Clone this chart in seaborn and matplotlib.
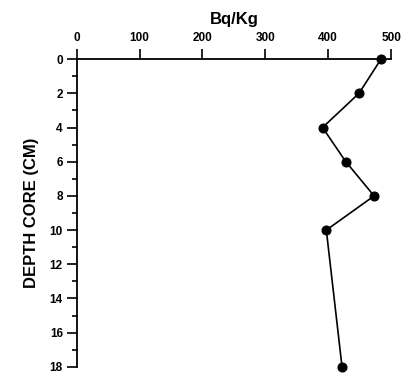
import matplotlib
matplotlib.use("Agg")
import matplotlib.pyplot as plt
import seaborn as sns
import pandas as pd
from matplotlib.ticker import MultipleLocator

depth_cm = [0, 2, 4, 6, 8, 10, 18]
activity_bq_kg = [484, 449, 391, 428, 473, 397, 422]
x_ticks = [0, 100, 200, 300, 400, 500]
y_ticks = [0, 2, 4, 6, 8, 10, 12, 14, 16, 18]

df = pd.DataFrame({"depth": depth_cm, "activity": activity_bq_kg})

sns.set_style("ticks")
plt.rcParams["font.family"] = ["Liberation Sans", "DejaVu Sans"]
plt.rcParams["font.weight"] = "bold"
plt.rcParams["text.color"] = "black"
plt.rcParams["axes.labelcolor"] = "black"

fig = plt.figure(figsize=(4.04, 3.79), dpi=100)
ax = fig.add_axes([0.19, 0.032, 0.778, 0.812])

sns.lineplot(data=df, x="activity", y="depth", orient="y", sort=False,
             estimator=None, color="black", linewidth=1.2, marker="o",
             markersize=6.5, markeredgecolor="black", ax=ax, clip_on=False)

ax.set_xlim(0, 500)
ax.set_ylim(18, 0)
ax.xaxis.set_ticks_position("top")
ax.xaxis.set_label_position("top")
ax.set_xticks(x_ticks)
ax.set_yticks(y_ticks)
ax.yaxis.set_minor_locator(MultipleLocator(1))
ax.set_xlabel("Bq/Kg", fontsize=12, fontweight="bold", labelpad=6)
ax.set_ylabel("DEPTH CORE (CM)", fontsize=12, fontweight="bold", labelpad=8)

for s in ["right", "bottom"]:
    ax.spines[s].set_visible(False)
for s in ["left", "top"]:
    ax.spines[s].set_visible(True)
    ax.spines[s].set_color("black")
    ax.spines[s].set_linewidth(1.3)

ax.tick_params(axis="x", which="major", direction="out", length=7, width=1.2,
               labelsize=8.5, pad=4, colors="black")
ax.tick_params(axis="y", which="major", direction="out", length=7, width=1.2,
               labelsize=8.5, pad=3, left=True, right=False, colors="black")
ax.tick_params(axis="y", which="minor", direction="out", length=3.5, width=1.2,
               left=True, right=False, colors="black")
for lbl in ax.get_xticklabels() + ax.get_yticklabels():
    lbl.set_fontweight("bold")

fig.savefig("out.png", dpi=100)
